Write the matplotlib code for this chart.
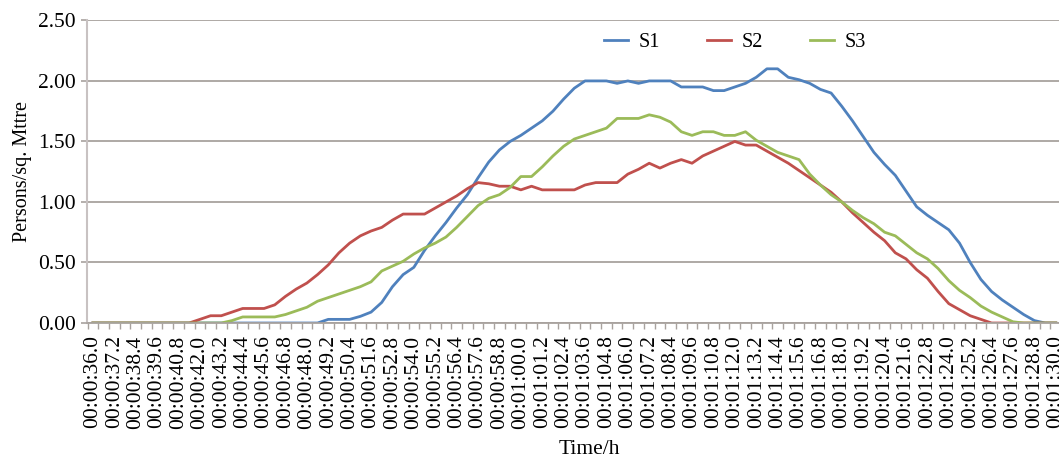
"""Pedestrian density over time for three scenarios (S1, S2, S3)."""
import numpy as np
import matplotlib
matplotlib.use("Agg")
import matplotlib.pyplot as plt
from matplotlib.ticker import FixedLocator, FormatStrFormatter

plt.rcParams['font.family'] = ['Liberation Serif', 'DejaVu Serif']

# one value every 0.6 s, from 00:00:36.0 to 00:01:30.0
S1 = [0, 0, 0, 0, 0, 0, 0, 0, 0, 0,
      0, 0, 0, 0, 0, 0, 0, 0, 0, 0,
      0, 0, 0.03, 0.03, 0.03, 0.055, 0.09, 0.17, 0.30, 0.40,
      0.46, 0.60, 0.72, 0.83, 0.95, 1.06, 1.20, 1.33, 1.43, 1.50,
      1.55, 1.61, 1.67, 1.75, 1.85, 1.94, 2.00, 2.00, 2.00, 1.98,
      2.00, 1.98, 2.00, 2.00, 2.00, 1.95, 1.95, 1.95, 1.92, 1.92,
      1.95, 1.98, 2.03, 2.10, 2.10, 2.03, 2.01, 1.98, 1.93, 1.90,
      1.79, 1.67, 1.54, 1.41, 1.31, 1.22, 1.09, 0.96, 0.89, 0.83,
      0.77, 0.66, 0.50, 0.36, 0.26, 0.19, 0.13, 0.07, 0.02, 0,
      0]
S2 = [0, 0, 0, 0, 0, 0, 0, 0, 0, 0,
      0.03, 0.06, 0.06, 0.09, 0.12, 0.12, 0.12, 0.15, 0.22, 0.28,
      0.33, 0.40, 0.48, 0.58, 0.66, 0.72, 0.76, 0.79, 0.85, 0.90,
      0.90, 0.90, 0.95, 1.00, 1.05, 1.11, 1.16, 1.15, 1.13, 1.13,
      1.10, 1.13, 1.10, 1.10, 1.10, 1.10, 1.14, 1.16, 1.16, 1.16,
      1.23, 1.27, 1.32, 1.28, 1.32, 1.35, 1.32, 1.38, 1.42, 1.46,
      1.50, 1.47, 1.47, 1.42, 1.37, 1.32, 1.26, 1.20, 1.14, 1.08,
      1.00, 0.91, 0.83, 0.75, 0.68, 0.58, 0.53, 0.44, 0.37, 0.26,
      0.16, 0.11, 0.06, 0.03, 0, 0, 0, 0, 0, 0,
      0]
S3 = [0, 0, 0, 0, 0, 0, 0, 0, 0, 0,
      0, 0, 0, 0.02, 0.05, 0.05, 0.05, 0.05, 0.07, 0.10,
      0.13, 0.18, 0.21, 0.24, 0.27, 0.30, 0.34, 0.43, 0.47, 0.51,
      0.57, 0.62, 0.66, 0.71, 0.79, 0.88, 0.97, 1.03, 1.06, 1.12,
      1.21, 1.21, 1.29, 1.38, 1.46, 1.52, 1.55, 1.58, 1.61, 1.69,
      1.69, 1.69, 1.72, 1.70, 1.66, 1.58, 1.55, 1.58, 1.58, 1.55,
      1.55, 1.58, 1.51, 1.46, 1.41, 1.38, 1.35, 1.23, 1.14, 1.06,
      1.00, 0.93, 0.87, 0.82, 0.75, 0.72, 0.65, 0.58, 0.53, 0.45,
      0.35, 0.27, 0.21, 0.14, 0.09, 0.05, 0.01, 0, 0, 0,
      0]

# labels shown on every second category
TIME_LABELS = [
    "00:00:36.0", "00:00:37.2", "00:00:38.4", "00:00:39.6", "00:00:40.8",
    "00:00:42.0", "00:00:43.2", "00:00:44.4", "00:00:45.6", "00:00:46.8",
    "00:00:48.0", "00:00:49.2", "00:00:50.4", "00:00:51.6", "00:00:52.8",
    "00:00:54.0", "00:00:55.2", "00:00:56.4", "00:00:57.6", "00:00:58.8",
    "00:01:00.0", "00:01:01.2", "00:01:02.4", "00:01:03.6", "00:01:04.8",
    "00:01:06.0", "00:01:07.2", "00:01:08.4", "00:01:09.6", "00:01:10.8",
    "00:01:12.0", "00:01:13.2", "00:01:14.4", "00:01:15.6", "00:01:16.8",
    "00:01:18.0", "00:01:19.2", "00:01:20.4", "00:01:21.6", "00:01:22.8",
    "00:01:24.0", "00:01:25.2", "00:01:26.4", "00:01:27.6", "00:01:28.8",
    "00:01:30.0",
]
SERIES_NAMES = ["S1", "S2", "S3"]
COLORS = ["#4F81BD", "#C0504D", "#9BBB59"]
GRID_COLOR = "#A8A29E"

fig = plt.figure(figsize=(10.59, 4.59), dpi=100)
ax = fig.add_axes([87 / 1059, 136 / 459, 972 / 1059, 302.6 / 459])

x = np.arange(len(S1))
for vals, name, col in zip([S1, S2, S3], SERIES_NAMES, COLORS):
    ax.plot(x, vals, color=col, lw=2.0, label=name, solid_joinstyle='round')

ax.set_xlim(-0.55, len(S1) - 0.7)
ax.set_ylim(0, 2.5)

# category labels every second point, tick marks between categories
ax.xaxis.set_major_locator(FixedLocator(np.arange(0, len(S1), 2)))
ax.set_xticklabels(TIME_LABELS, rotation=90, fontsize=15.5)
ax.xaxis.set_minor_locator(FixedLocator(np.arange(-0.5, len(S1), 1)))
ax.tick_params(axis='x', which='major', length=0, pad=9)
ax.tick_params(axis='x', which='minor', length=4, width=1, color=GRID_COLOR)

ax.set_yticks(np.arange(0, 2.51, 0.5))
ax.yaxis.set_major_formatter(FormatStrFormatter('%.2f'))
ax.tick_params(axis='y', length=4, width=1.2, color=GRID_COLOR,
               labelsize=15.5, pad=4)

ax.grid(axis='y', color=GRID_COLOR, lw=1.3)
ax.set_axisbelow(True)
for side in ['top', 'right']:
    ax.spines[side].set_visible(False)
ax.spines['left'].set_color("#C8C2C2")
ax.spines['left'].set_linewidth(1.5)
ax.spines['bottom'].set_color(GRID_COLOR)
ax.spines['bottom'].set_linewidth(1.3)

ax.set_ylabel("Persons/sq. Mttre", fontsize=14.5)
ax.yaxis.set_label_coords(-55 / 972, 0.5)
fig.text(589 / 1059, 10 / 459, "Time/h", fontsize=15.5, ha='center', va='center')

ax.legend(loc='upper left', bbox_to_anchor=(0.513, 1.02), ncol=3, frameon=False,
          fontsize=14.5, handlelength=1.2, handletextpad=0.55, columnspacing=2.3)

fig.savefig("out.png", dpi=100)
